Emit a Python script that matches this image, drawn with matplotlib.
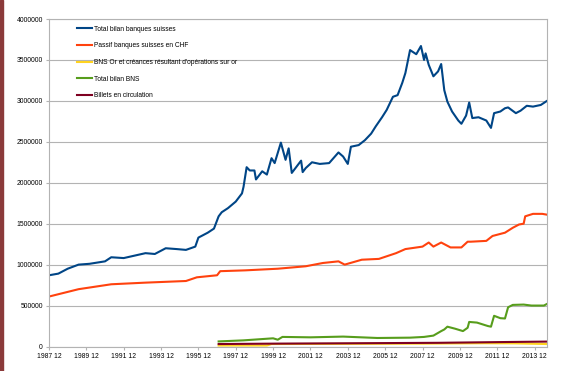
import matplotlib
matplotlib.use("Agg")
import matplotlib.pyplot as plt
from matplotlib.patches import Rectangle

# month offsets from 1987-12
bank_months = [0, 6, 12, 19, 26, 36, 40, 48, 55, 62, 68, 75, 82, 88, 94, 96, 102, 106, 109, 111,
               115, 120, 124, 125, 127, 129, 132, 133, 137, 140, 143, 145, 149, 152, 154, 156, 162,
               163, 165, 169, 174, 180, 186, 189, 192, 194, 199, 203, 207, 210, 214, 217, 221, 224,
               227, 229, 232, 236, 239, 241, 242, 244, 247, 250, 252, 254, 256, 259, 263, 265, 268,
               270, 272, 276, 281, 284, 286, 290, 293, 295, 300, 303, 307, 311, 316, 320]
bank_total = [870000, 890000, 950000, 1000000, 1010000, 1040000, 1090000, 1080000, 1110000,
              1140000, 1130000, 1200000, 1190000, 1180000, 1220000, 1330000, 1390000, 1440000,
              1590000, 1640000, 1690000, 1770000, 1870000, 1950000, 2190000, 2150000, 2150000,
              2040000, 2140000, 2100000, 2300000, 2240000, 2490000, 2280000, 2420000, 2120000,
              2270000, 2130000, 2180000, 2250000, 2230000, 2240000, 2370000, 2320000, 2230000,
              2440000, 2460000, 2520000, 2600000, 2690000, 2800000, 2890000, 3050000, 3070000,
              3220000, 3340000, 3620000, 3570000, 3670000, 3500000, 3580000, 3440000, 3300000,
              3360000, 3450000, 3130000, 2990000, 2870000, 2760000, 2720000, 2820000, 2980000,
              2790000, 2800000, 2760000, 2670000, 2850000, 2870000, 2910000, 2920000, 2850000,
              2880000, 2940000, 2930000, 2950000, 3000000]

chf_months = [0, 19, 40, 62, 88, 95, 108, 110, 126, 147, 165, 176, 186, 190, 201, 212, 223, 229,
              240, 244, 247, 252, 258, 265, 269, 271, 281, 285, 293, 298, 302, 305, 306, 311, 317, 320]
chf_liab = [610000, 700000, 760000, 780000, 800000, 845000, 870000, 920000, 930000, 950000,
            980000, 1020000, 1040000, 1000000, 1060000, 1070000, 1140000, 1190000, 1220000,
            1270000, 1220000, 1270000, 1210000, 1210000, 1280000, 1280000, 1290000, 1350000,
            1390000, 1450000, 1490000, 1500000, 1590000, 1620000, 1620000, 1610000]

gold_months = [109, 140, 143, 180, 240, 280, 300, 320]
gold = [12000, 12000, 30000, 32000, 35000, 40000, 38000, 30000]

snb_months = [109, 125, 144, 147, 150, 168, 189, 211, 232, 241, 247, 252, 254, 256, 261, 266, 269,
              270, 275, 282, 284, 286, 290, 293, 295, 298, 305, 310, 318, 320]
snb_total = [62000, 75000, 100000, 83000, 117000, 112000, 121000, 104000, 108000, 117000, 133000,
             188000, 208000, 242000, 217000, 188000, 229000, 300000, 292000, 250000, 242000, 375000,
             346000, 342000, 479000, 508000, 512000, 500000, 500000, 520000]

notes_months = [109, 145, 200, 250, 290, 320]
notes = [30000, 35000, 40000, 45000, 54000, 60000]

labels = ["Total bilan banques suisses", "Passif banques suisses en CHF",
          "BNS Or et créances résultant d'opérations sur or", "Total bilan BNS",
          "Billets en circulation"]
colors = ["#004586", "#ff420e", "#ffd320", "#579d1c", "#7e0021"]

plt.rcParams['font.family'] = ['Liberation Sans', 'DejaVu Sans']

fig = plt.figure(figsize=(5.63, 3.71), dpi=100)
ax = fig.add_axes([49 / 563, 1 - 346.5 / 371, 498 / 563, 327.5 / 371])

series = [(bank_months, bank_total), (chf_months, chf_liab), (gold_months, gold),
          (snb_months, snb_total), (notes_months, notes)]
for (m, v), lab, c in zip(series, labels, colors):
    ax.plot(m, v, color=c, lw=1.5, label=lab)

ax.set_xlim(0, 320)
ax.set_ylim(0, 4000000)
ax.set_yticks(range(0, 4000001, 500000))
ax.set_yticklabels([str(v) for v in range(0, 4000001, 500000)])
xt = list(range(0, 320, 24))
ax.set_xticks(xt)
ax.set_xticklabels(["%d 12" % (1987 + t // 12) for t in xt])

ax.yaxis.grid(True, color="#b3b3b3", lw=0.8)
ax.set_axisbelow(True)
for s in ax.spines.values():
    s.set_color("#b3b3b3")
    s.set_linewidth(0.8)
ax.tick_params(labelsize=4.9, length=2.5, width=0.8, color="#b3b3b3", pad=2)

ax.legend(loc="upper left", bbox_to_anchor=(0.045, 0.998), frameon=False, fontsize=4.8,
          handlelength=2.2, handletextpad=0.35, labelspacing=1.45)

fig.add_artist(Rectangle((0, 0), 0.005, 1, transform=fig.transFigure, color="#8b3a3a"))

fig.savefig("out.png", dpi=100)
